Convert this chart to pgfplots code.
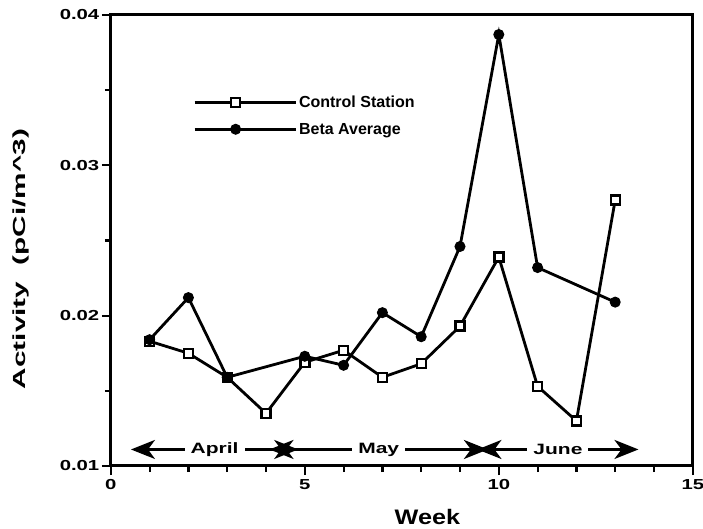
\documentclass[border=0pt]{standalone}
\usepackage{pgfplots}
\pgfplotsset{compat=1.18}
\usepackage{fontspec}
\setmainfont{Liberation Sans}
\newfontfamily\tickfont{Liberation Sans}[FakeStretch=1.4]
\newfontfamily\labfont{Liberation Sans}[FakeStretch=1.7]
\newfontfamily\weekfont{Liberation Sans}[FakeStretch=1.2]
\usetikzlibrary{arrows.meta}

\begin{document}
\begin{tikzpicture}
\path[use as bounding box] (-110.8pt,-63pt) rectangle (592.2pt,466pt);
\begin{axis}[
  scale only axis, width=582pt, height=451pt,
  xmin=0, xmax=15, ymin=0.01, ymax=0.04,
  xtick={0,5,10,15}, minor x tick num=4,
  ytick={0.01,0.02,0.03,0.04}, minor y tick num=1,
  xtick pos=bottom, ytick pos=left,
  axis line style={line width=3pt},
  tick style={line width=2.2pt, black},
  major tick length=9pt, minor tick length=6pt,
  tick align=outside,
  /pgf/number format/assume math mode=true,
  yticklabel style={/pgf/number format/fixed, /pgf/number format/precision=2, /pgf/number format/fixed zerofill},
  ticklabel style={font=\tickfont\bfseries\fontsize{14.5}{14.5}\selectfont},
  xticklabel style={yshift=-1pt},
  yticklabel style={xshift=1pt},
  scaled y ticks=false,
  xlabel={Week},
  xlabel style={font=\weekfont\bfseries\fontsize{21}{21}\selectfont, at={(axis description cs:0.544,0)}, anchor=center, yshift=-51pt},
  ylabel={Activity\ \ (pCi/m\textasciicircum 3)},
  ylabel style={font=\labfont\bfseries\fontsize{17.5}{17.5}\selectfont, at={([xshift=-90pt]axis description cs:0,0.459)}, anchor=center, rotate=0},
  legend style={draw=none, fill=none, at={(axis cs:2.12,0.0333)}, anchor=west,
    font=\bfseries\fontsize{16}{16}\selectfont, row sep=10pt, inner sep=0pt},
  legend cell align=left,
  legend image code/.code={
    \draw[mark repeat=2, mark phase=2, #1] plot coordinates {(0pt,0pt) (41pt,0pt) (82pt,0pt)};
    \path (82pt,0pt) -- (101pt,0pt);
  },
]
\addplot[black, line width=2.8pt, mark=square*, mark size=4.5pt,
  mark options={fill=white, line width=2.4pt, solid}]
  coordinates {(1,0.0183)(2,0.0175)(3,0.0159)(4,0.0135)(5,0.0169)(6,0.0177)(7,0.0159)
  (8,0.0168)(9,0.0193)(10,0.0239)(11,0.0153)(12,0.0130)(13,0.0277)};
\addlegendentry{Control Station}
\addplot[black, line width=2.8pt, mark=*, mark size=5pt, mark options={fill=black, solid, line width=1pt}]
  coordinates {(1,0.0184)(2,0.0212)(3,0.0159)(5,0.0173)(6,0.0167)(7,0.0202)(8,0.0186)
  (9,0.0246)(10,0.0387)(11,0.0232)(13,0.0209)};
\addlegendentry{Beta Average}

\begin{scope}[line width=2.8pt, font=\tickfont\bfseries\fontsize{15}{15}\selectfont]
\draw[{Stealth[length=24pt,width=19pt,inset=7pt]}-{Stealth[length=24pt,width=19pt,inset=7pt]}]
  (axis cs:0.52,0.0111) -- (axis cs:4.83,0.0111)
  node[midway, fill=white, inner sep=6pt] {April};
\draw[{Stealth[length=24pt,width=19pt,inset=7pt]}-{Stealth[length=24pt,width=19pt,inset=7pt]}]
  (axis cs:4.09,0.0111) -- (axis cs:9.72,0.0111)
  node[midway, fill=white, inner sep=6pt] {May};
\draw[{Stealth[length=24pt,width=19pt,inset=7pt]}-{Stealth[length=24pt,width=19pt,inset=7pt]}]
  (axis cs:9.45,0.0111) -- (axis cs:13.6,0.0111)
  node[midway, fill=white, inner sep=6pt] {June};
\end{scope}
\end{axis}
\end{tikzpicture}
\end{document}
